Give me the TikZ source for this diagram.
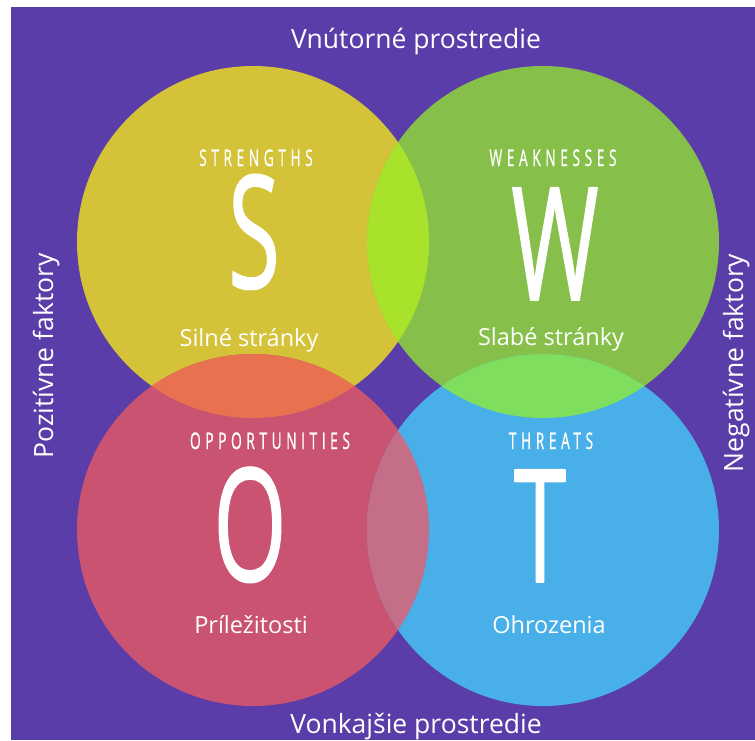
\documentclass[tikz,border=0pt]{standalone}
\usepackage{fontspec}
\setmainfont{Open Sans}
\newfontfamily\headfont[LetterSpace=33, FakeBold=1]{Open Sans}
\newfontfamily\letterfont[FakeBold=1.2]{Open Sans}

\definecolor{swotbg}{HTML}{5A3DA8}
\definecolor{colS}{HTML}{D4C239}
\definecolor{colW}{HTML}{86C04A}
\definecolor{colO}{HTML}{CB5372}
\definecolor{colT}{HTML}{48AFE8}
\definecolor{colSW}{HTML}{A8E22B}
\definecolor{colSO}{HTML}{E8714F}
\definecolor{colWT}{HTML}{7FDE5E}
\definecolor{colOT}{HTML}{C46E88}

\tikzset{
  sidetext/.style={text=white, anchor=base, inner sep=0pt, font=\fontsize{26.5}{30}\selectfont},
  headtext/.style={text=white, anchor=base, inner sep=0pt, xscale=0.6, font=\headfont\fontsize{23}{26}\selectfont},
  bigletter/.style={text=white, anchor=base, inner sep=0pt, xscale=0.6, font=\letterfont\fontsize{157}{160}\selectfont},
  bodytext/.style={text=white, anchor=base, inner sep=0pt, font=\fontsize{23.5}{28}\selectfont},
}

\begin{document}
\begin{tikzpicture}[x=1pt, y=-1pt, line join=round, line cap=round]
  \useasboundingbox (0,0) rectangle (755,740);
  \fill[swotbg] (11,7) rectangle (755,740);

  % the four circles
  \foreach \cx/\cy/\col in {253/242/colS, 543/242/colW, 253/530/colO, 543/530/colT}
    \fill[\col] (\cx,\cy) circle(176pt);

  % overlaps
  \begin{scope}
    \clip (253,242) circle(176pt);
    \fill[colSW] (543,242) circle(176pt);
    \fill[colSO] (253,530) circle(176pt);
  \end{scope}
  \begin{scope}
    \clip (543,530) circle(176pt);
    \fill[colWT] (543,242) circle(176pt);
    \fill[colOT] (253,530) circle(176pt);
  \end{scope}

  % frame labels
  \node[sidetext] (inner) at (416,48) {Vnútorné prostredie};
  \node[sidetext] (outer) at (416,733) {Vonkajšie prostredie};
  \node[sidetext, rotate=90] (positive) at (53,356) {Pozitívne faktory};
  \node[sidetext, rotate=90] (negative) at (743,363) {Negatívne faktory};

  % S
  \node[headtext] (headS) at (256,166) {STRENGTHS};
  \node[bigletter] (letterS) at (254,288) {S};
  \node[bodytext] (textS) at (249,346) {Silné stránky};
  % W
  \node[headtext] (headW) at (553,166) {WEAKNESSES};
  \node[bigletter] (letterW) at (555,300) {W};
  \node[bodytext] (textW) at (551,345) {Slabé stránky};
  % O
  \node[headtext] (headO) at (270,449) {OPPORTUNITIES};
  \node[bigletter] (letterO) at (250,581) {O};
  \node[bodytext] (textO) at (251,633) {Príležitosti};
  % T
  \node[headtext] (headT) at (551,449) {THREATS};
  \node[bigletter] (letterT) at (540,582) {T};
  \node[bodytext] (textT) at (549,633) {Ohrozenia};
\end{tikzpicture}
\end{document}
